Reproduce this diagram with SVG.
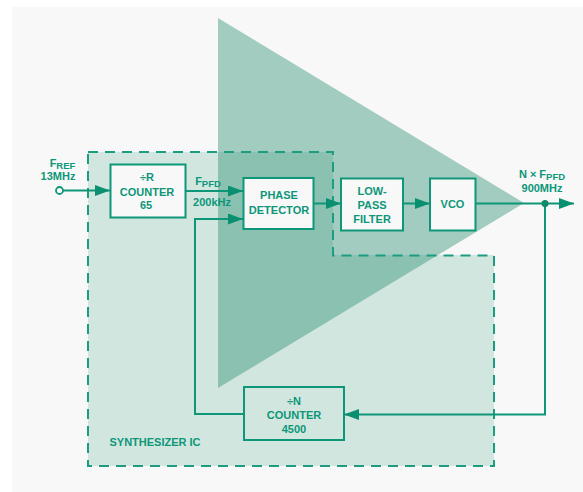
<svg xmlns="http://www.w3.org/2000/svg" width="583" height="492" viewBox="0 0 583 492">
<style>
text{font-family:"Liberation Sans",Arial,sans-serif;font-weight:700;font-size:11px;fill:#0d9678;text-anchor:middle}
.sub{font-size:9.500px}
.box{stroke:#0d9678;stroke-width:2;fill:#f8f8f8}
.wire{stroke:#0d9678;stroke-width:2;fill:none}
</style>
<defs>
<marker id="arrow" markerUnits="userSpaceOnUse" markerWidth="16" markerHeight="12" refX="15" refY="5.500" orient="auto"><path d="M0 0L15 5.500L0 11Z" fill="#0a9070"/></marker>
</defs>
<rect width="583" height="492" fill="#ffffff"/>
<rect x="12" y="7" width="571" height="485" fill="#f8f8f8"/>
<g id="synthesizer-ic">
<path d="M88 152H333V255H494V466H88Z" fill="#d2e6e0"/>
</g>
<g id="amplifier-triangle">
<path d="M218 18L524 203L218 388Z" fill="#0d805f" fill-opacity="0.36"/>
</g>
<path d="M88 152H333V255.500H494V466H88Z" fill="none" stroke="#1c9c80" stroke-width="2" stroke-dasharray="10 7"/>
<g id="connectors">
<circle cx="59.500" cy="190.500" r="3.500" fill="#f8f8f8" stroke="#0d9678" stroke-width="1.800"/>
<path class="wire" d="M63 190.500H110" marker-end="url(#arrow)"/>
<path class="wire" d="M186 191H243" marker-end="url(#arrow)"/>
<path class="wire" d="M244 414H195V219H243" marker-end="url(#arrow)"/>
<path class="wire" d="M314 203.500H341" marker-end="url(#arrow)"/>
<path class="wire" d="M403 203.500H430" marker-end="url(#arrow)"/>
<path class="wire" d="M475 203.500H574" marker-end="url(#arrow)"/>
<path class="wire" d="M545 203.500V414.500H344" marker-end="url(#arrow)"/>
<circle cx="545" cy="203.500" r="3.500" fill="#0d8a68"/>
</g>
<g id="r-counter">
<rect class="box" x="110.500" y="164.500" width="75" height="53"/>
<text x="147" y="181">÷R</text>
<text x="147" y="196">COUNTER</text>
<text x="146" y="209">65</text>
</g>
<g id="phase-detector">
<rect class="box" x="243.500" y="178" width="70" height="51"/>
<text x="279" y="199">PHASE</text>
<text x="279" y="214">DETECTOR</text>
</g>
<g id="low-pass-filter">
<rect class="box" x="341" y="178.500" width="62" height="52"/>
<text x="372" y="195">LOW-</text>
<text x="372" y="209">PASS</text>
<text x="372" y="223">FILTER</text>
</g>
<g id="vco">
<rect class="box" x="430" y="178.500" width="45.500" height="52"/>
<text x="452.500" y="208">VCO</text>
</g>
<g id="n-counter">
<rect x="244" y="387" width="100" height="53" fill="none" stroke="#0d9678" stroke-width="2"/>
<text x="294" y="405">÷N</text>
<text x="294" y="419">COUNTER</text>
<text x="294" y="433">4500</text>
</g>
<g id="labels">
<text x="62.500" y="167">F<tspan class="sub" dy="2">REF</tspan></text>
<text x="58" y="180">13MHz</text>
<text x="208" y="185">F<tspan class="sub" dy="2">PFD</tspan></text>
<text x="212" y="206">200kHz</text>
<text x="542" y="178">N × F<tspan class="sub" dy="2">PFD</tspan></text>
<text x="542" y="192">900MHz</text>
<text x="155" y="446">SYNTHESIZER IC</text>
</g>
</svg>
